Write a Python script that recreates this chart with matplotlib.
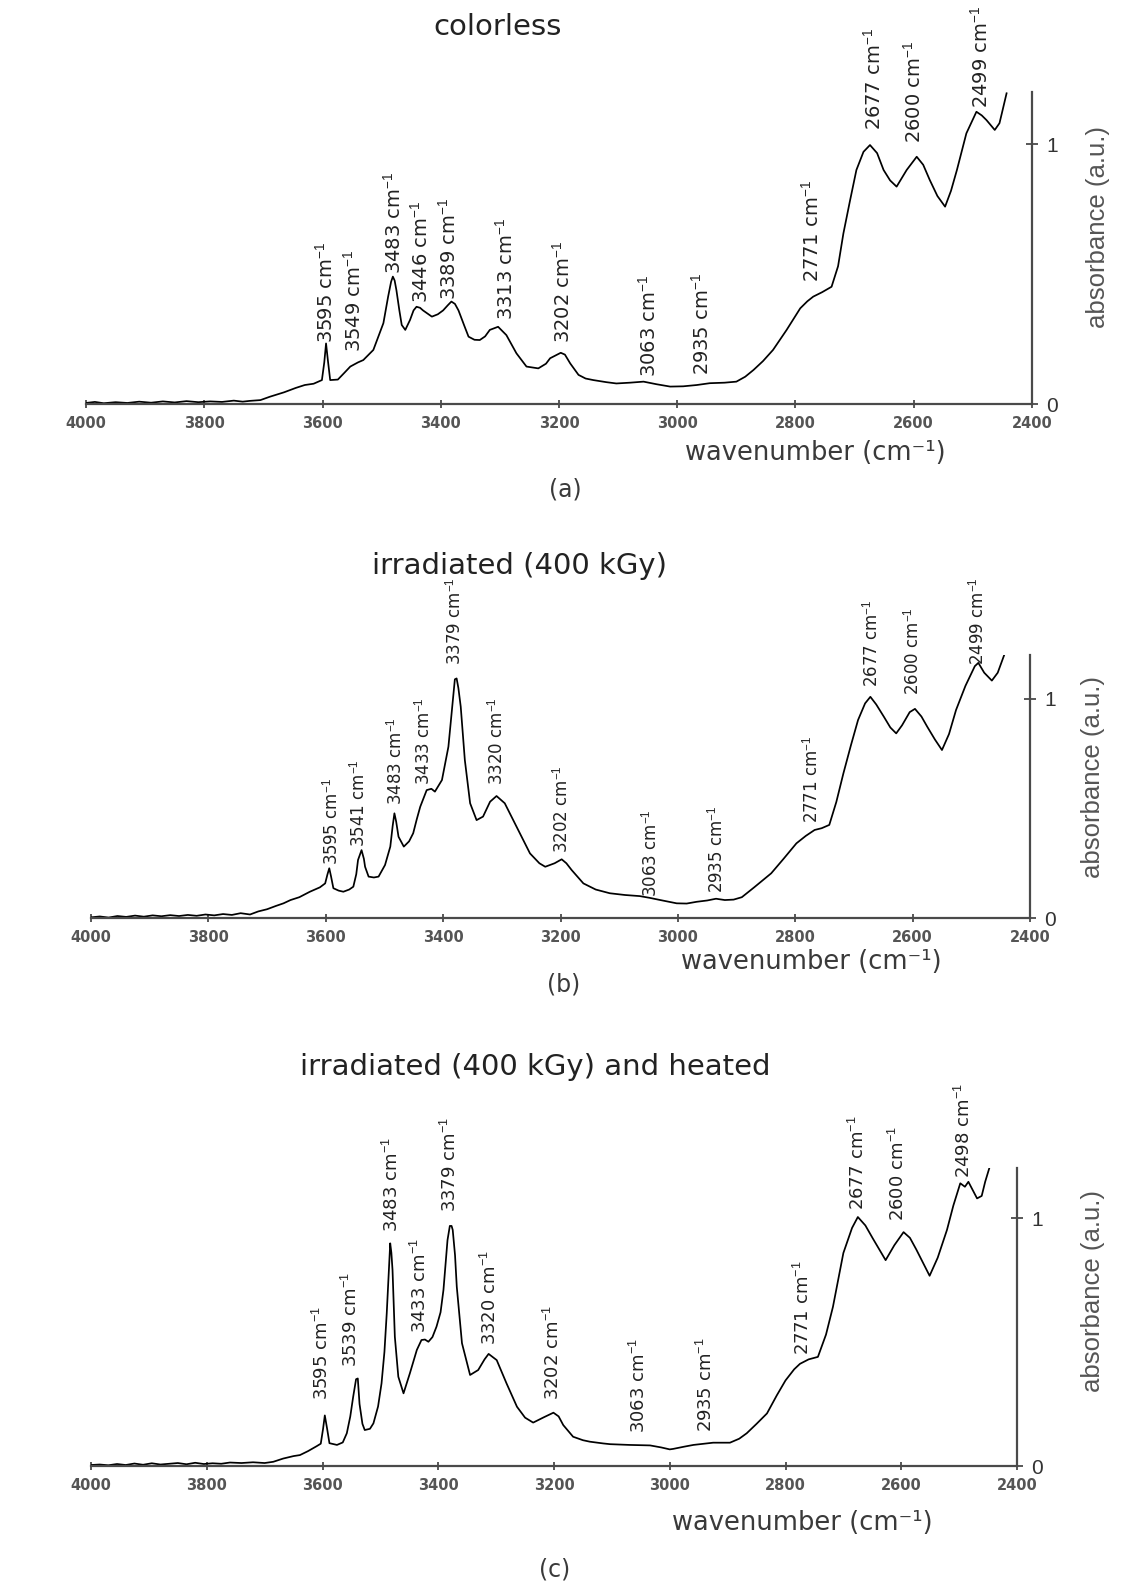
import matplotlib
matplotlib.use("Agg")
import matplotlib.pyplot as plt

plt.rcParams['mathtext.fontset'] = 'custom'
plt.rcParams['mathtext.rm'] = 'Liberation Sans'
plt.rcParams['mathtext.it'] = 'Liberation Sans:italic'
plt.rcParams['mathtext.bf'] = 'Liberation Sans:bold'

# ---------------- data ----------------
titles = ["colorless", "irradiated (400 kGy)", "irradiated (400 kGy) and heated"]
panel_tags = ["(a)", "(b)", "(c)"]
x_ticks = [4000, 3800, 3600, 3400, 3200, 3000, 2800, 2600, 2400]
y_ticks = [0, 1]

wn_a = [4000, 3985, 3970, 3950, 3930, 3910, 3890, 3870, 3850, 3830, 3810, 3790, 3770, 3750, 3735,
        3723, 3705, 3689, 3665, 3645, 3630, 3615, 3601, 3597, 3594, 3591, 3587, 3574, 3563, 3553,
        3540, 3531, 3514, 3497, 3489, 3484, 3481, 3478, 3475, 3470, 3466, 3460, 3452, 3446, 3441,
        3435, 3430, 3415, 3405, 3396, 3388, 3382, 3376, 3370, 3360, 3353, 3343, 3334, 3325, 3317,
        3303, 3289, 3272, 3255, 3235, 3222, 3215, 3197, 3190, 3181, 3167, 3155, 3142, 3120, 3103,
        3080, 3057, 3035, 3012, 2990, 2967, 2945, 2920, 2900, 2885, 2871, 2855, 2838, 2815, 2792,
        2780, 2770, 2755, 2739, 2728, 2719, 2708, 2697, 2685, 2674, 2662, 2651, 2640, 2629, 2612,
        2595, 2584, 2573, 2560, 2547, 2537, 2527, 2511, 2494, 2485, 2477, 2463, 2455, 2451, 2443]
abs_a = [0.004, 0.008, 0.003, 0.007, 0.004, 0.009, 0.005, 0.010, 0.006, 0.011, 0.007, 0.010, 0.008, 0.013, 0.009,
         0.012, 0.015, 0.028, 0.045, 0.062, 0.073, 0.078, 0.092, 0.160, 0.233, 0.170, 0.092, 0.094, 0.120, 0.144,
         0.160, 0.169, 0.208, 0.311, 0.413, 0.470, 0.490, 0.475, 0.438, 0.360, 0.304, 0.285, 0.323, 0.360, 0.374,
         0.370, 0.360, 0.336, 0.345, 0.360, 0.380, 0.394, 0.385, 0.360, 0.300, 0.259, 0.247, 0.246, 0.260, 0.285,
         0.297, 0.265, 0.195, 0.144, 0.137, 0.155, 0.176, 0.197, 0.190, 0.156, 0.112, 0.098, 0.092, 0.084, 0.079,
         0.082, 0.086, 0.076, 0.067, 0.068, 0.073, 0.080, 0.082, 0.086, 0.105, 0.131, 0.165, 0.208, 0.285, 0.368,
         0.395, 0.413, 0.430, 0.451, 0.530, 0.656, 0.780, 0.900, 0.970, 0.996, 0.965, 0.900, 0.860, 0.836, 0.900,
         0.951, 0.920, 0.862, 0.800, 0.759, 0.820, 0.900, 1.041, 1.124, 1.110, 1.092, 1.054, 1.080, 1.118, 1.195]

wn_b = [4000, 3985, 3970, 3955, 3940, 3925, 3910, 3895, 3880, 3865, 3850, 3835, 3820, 3805, 3790,
        3775, 3760, 3745, 3729, 3715, 3700, 3685, 3672, 3660, 3645, 3627, 3610, 3601, 3597, 3594,
        3591, 3587, 3578, 3570, 3560, 3553, 3548, 3545, 3539, 3535, 3533, 3527, 3518, 3510, 3499,
        3490, 3486, 3483, 3480, 3476, 3467, 3458, 3451, 3445, 3439, 3428, 3420, 3414, 3402, 3391,
        3384, 3380, 3377, 3374, 3370, 3363, 3354, 3343, 3332, 3320, 3309, 3295, 3275, 3252, 3236,
        3226, 3210, 3198, 3190, 3181, 3161, 3140, 3116, 3090, 3065, 3048, 3030, 3002, 2985, 2968,
        2950, 2935, 2920, 2905, 2891, 2870, 2841, 2820, 2798, 2782, 2767, 2755, 2742, 2730, 2718,
        2705, 2693, 2681, 2672, 2662, 2649, 2638, 2628, 2618, 2605, 2596, 2585, 2575, 2562, 2550,
        2538, 2526, 2510, 2494, 2488, 2478, 2465, 2455, 2443]
abs_b = [0.003, 0.007, 0.002, 0.009, 0.005, 0.011, 0.006, 0.012, 0.008, 0.013, 0.009, 0.014, 0.010, 0.016, 0.012,
         0.018, 0.014, 0.022, 0.016, 0.030, 0.040, 0.055, 0.067, 0.082, 0.095, 0.120, 0.140, 0.158, 0.200, 0.227,
         0.190, 0.136, 0.125, 0.120, 0.130, 0.143, 0.200, 0.265, 0.310, 0.270, 0.234, 0.189, 0.185, 0.189, 0.242,
         0.326, 0.420, 0.478, 0.440, 0.371, 0.326, 0.350, 0.387, 0.450, 0.508, 0.584, 0.590, 0.577, 0.630, 0.782,
         0.980, 1.090, 1.094, 1.050, 0.965, 0.721, 0.524, 0.447, 0.463, 0.531, 0.557, 0.524, 0.417, 0.295, 0.250,
         0.234, 0.250, 0.268, 0.250, 0.219, 0.158, 0.130, 0.113, 0.105, 0.100, 0.092, 0.082, 0.067, 0.066, 0.074,
         0.080, 0.088, 0.082, 0.084, 0.095, 0.140, 0.204, 0.270, 0.341, 0.375, 0.402, 0.410, 0.425, 0.530, 0.660,
         0.790, 0.904, 0.980, 1.010, 0.975, 0.919, 0.870, 0.843, 0.880, 0.940, 0.955, 0.920, 0.873, 0.815, 0.767,
         0.840, 0.950, 1.060, 1.150, 1.165, 1.120, 1.084, 1.120, 1.208]

wn_c = [4000, 3985, 3970, 3955, 3940, 3925, 3910, 3895, 3880, 3865, 3850, 3835, 3820, 3805, 3790,
        3775, 3760, 3740, 3720, 3700, 3685, 3668, 3650, 3639, 3625, 3610, 3603, 3599, 3596, 3592,
        3588, 3575, 3565, 3558, 3552, 3547, 3542, 3539, 3536, 3531, 3527, 3518, 3512, 3504, 3498,
        3493, 3489, 3485, 3483, 3481, 3479, 3477, 3475, 3469, 3460, 3449, 3437, 3429, 3423, 3417,
        3410, 3403, 3396, 3391, 3384, 3380, 3377, 3375, 3371, 3368, 3359, 3345, 3331, 3320, 3313,
        3299, 3282, 3264, 3250, 3236, 3218, 3201, 3192, 3184, 3167, 3150, 3138, 3115, 3103, 3070,
        3034, 3015, 3000, 2994, 2975, 2959, 2940, 2925, 2896, 2880, 2867, 2850, 2832, 2815, 2800,
        2785, 2775, 2760, 2744, 2730, 2718, 2700, 2685, 2675, 2662, 2649, 2627, 2612, 2596, 2585,
        2574, 2551, 2537, 2521, 2510, 2498, 2490, 2484, 2476, 2469, 2461, 2455, 2448]
abs_c = [0.004, 0.006, 0.003, 0.008, 0.004, 0.010, 0.005, 0.011, 0.006, 0.009, 0.012, 0.007, 0.013, 0.008, 0.011,
         0.009, 0.014, 0.012, 0.015, 0.012, 0.017, 0.030, 0.040, 0.044, 0.060, 0.080, 0.090, 0.150, 0.204, 0.150,
         0.092, 0.085, 0.095, 0.132, 0.200, 0.279, 0.350, 0.353, 0.250, 0.170, 0.145, 0.150, 0.172, 0.240, 0.333,
         0.460, 0.616, 0.800, 0.898, 0.860, 0.790, 0.650, 0.521, 0.360, 0.293, 0.374, 0.468, 0.508, 0.510, 0.501,
         0.520, 0.562, 0.620, 0.710, 0.911, 0.968, 0.968, 0.952, 0.850, 0.723, 0.495, 0.367, 0.387, 0.430, 0.452,
         0.427, 0.333, 0.239, 0.195, 0.175, 0.196, 0.215, 0.200, 0.165, 0.118, 0.104, 0.098, 0.091, 0.088, 0.085,
         0.083, 0.075, 0.067, 0.069, 0.078, 0.085, 0.090, 0.094, 0.094, 0.110, 0.132, 0.170, 0.212, 0.285, 0.345,
         0.390, 0.412, 0.430, 0.440, 0.530, 0.642, 0.859, 0.960, 1.004, 0.970, 0.917, 0.830, 0.890, 0.943, 0.920,
         0.873, 0.767, 0.840, 0.952, 1.050, 1.140, 1.126, 1.146, 1.110, 1.079, 1.089, 1.146, 1.200]

# peak labels: value, label x (wavenumber), label bottom (absorbance)
peaks_a = [3595, 3549, 3483, 3446, 3389, 3313, 3202, 3063, 2935, 2771, 2677, 2600, 2499]
lab_x_a = [3596, 3548, 3480, 3435, 3387, 3291, 3195, 3049, 2959, 2774, 2668, 2601, 2488]
lab_y_a = [0.235, 0.200, 0.500, 0.387, 0.400, 0.323, 0.233, 0.105, 0.110, 0.470, 1.054, 1.003, 1.137]

peaks_b = [3595, 3541, 3483, 3433, 3379, 3320, 3202, 3063, 2935, 2771, 2677, 2600, 2499]
lab_x_b = [3590, 3545, 3482, 3434, 3380, 3309, 3198, 3047, 2934, 2773, 2670, 2600, 2489]
lab_y_b = [0.242, 0.326, 0.516, 0.607, 1.155, 0.607, 0.295, 0.097, 0.113, 0.432, 1.056, 1.018, 1.155]

peaks_c = [3595, 3539, 3483, 3433, 3379, 3320, 3202, 3063, 2935, 2771, 2677, 2600, 2498]
lab_x_c = [3601, 3550, 3480, 3431, 3380, 3311, 3201, 3054, 2938, 2769, 2675, 2606, 2492]
lab_y_c = [0.266, 0.400, 0.945, 0.535, 1.025, 0.488, 0.266, 0.132, 0.137, 0.448, 1.032, 0.989, 1.163]

# ---------------- figure ----------------
W, H = 1140, 1583
fig = plt.figure(figsize=(W / 100, H / 100), dpi=100)
fig.patch.set_facecolor('white')

YTOP = 1.2
# axes boxes in pixels: left, right, y(0), pixels per unit
boxes = [(86, 1032, 404, 260), (91, 1030, 918, 219), (91, 1017, 1466, 248)]
title_pos = [(498, 27), (520, 566), (535, 1067)]
xlabel_pos = [(815, 453), (811, 962), (802, 1523)]
tag_pos = [(565, 490), (564, 985), (555, 1570)]
ylabel_pos = [(1098, 227), (1093, 777), (1093, 1291)]
peak_fs = [14, 12, 13]

series = [(wn_a, abs_a, peaks_a, lab_x_a, lab_y_a),
          (wn_b, abs_b, peaks_b, lab_x_b, lab_y_b),
          (wn_c, abs_c, peaks_c, lab_x_c, lab_y_c)]

axis_col = '#4a4a4a'
text_col = '#3a3a3a'

for i, (wn, ab, pk, lx, ly) in enumerate(series):
    l, r, y0, ppu = boxes[i]
    ax = fig.add_axes([l / W, 1 - y0 / H, (r - l) / W, YTOP * ppu / H])
    ax.plot(wn, ab, color='black', lw=1.25, solid_joinstyle='round')
    ax.set_xlim(4000, 2400)
    ax.set_ylim(0, YTOP)
    for s in ['top', 'left']:
        ax.spines[s].set_visible(False)
    for s in ['bottom', 'right']:
        ax.spines[s].set_color(axis_col)
        ax.spines[s].set_linewidth(1.6)
    ax.set_xticks(x_ticks)
    ax.set_xticklabels([str(t) for t in x_ticks])
    ax.set_yticks(y_ticks)
    ax.set_yticklabels([str(t) for t in y_ticks])
    ax.yaxis.tick_right()
    ax.tick_params(axis='x', direction='inout', length=6, width=1.3, colors=axis_col,
                   pad=6, labelsize=10.5)
    ax.tick_params(axis='y', direction='inout', length=8, width=1.3, colors=axis_col,
                   pad=6, labelsize=15, left=False, right=True)
    for t in ax.get_xticklabels():
        t.set_fontweight('bold')
        t.set_family('DejaVu Sans')
        t.set_color('#555555')
    for t in ax.get_yticklabels():
        t.set_family('Liberation Sans')
        t.set_color('#333333')
    ax.set_facecolor('none')

    for p, x, y in zip(pk, lx, ly):
        ax.text(x, y, f"{p} cm$^{{-1}}$", rotation=90, ha='center', va='bottom',
                fontsize=peak_fs[i], color='#222222', clip_on=False)

    tx, ty = title_pos[i]
    fig.text(tx / W, 1 - ty / H, titles[i], ha='center', va='center', fontsize=21,
             family='DejaVu Sans', color='#222222')
    xx, xy = xlabel_pos[i]
    fig.text(xx / W, 1 - xy / H, "wavenumber (cm⁻¹)", ha='center', va='center',
             fontsize=18.5, family='DejaVu Sans', color=text_col)
    gx, gy = tag_pos[i]
    fig.text(gx / W, 1 - gy / H, panel_tags[i], ha='center', va='center', fontsize=17,
             family='DejaVu Sans', color=text_col)
    yx, yy = ylabel_pos[i]
    fig.text(yx / W, 1 - yy / H, "absorbance (a.u.)", rotation=90, ha='center', va='center',
             fontsize=18.5, family='Liberation Sans', color='#555555')

fig.savefig("out.png", dpi=100, facecolor='white')
